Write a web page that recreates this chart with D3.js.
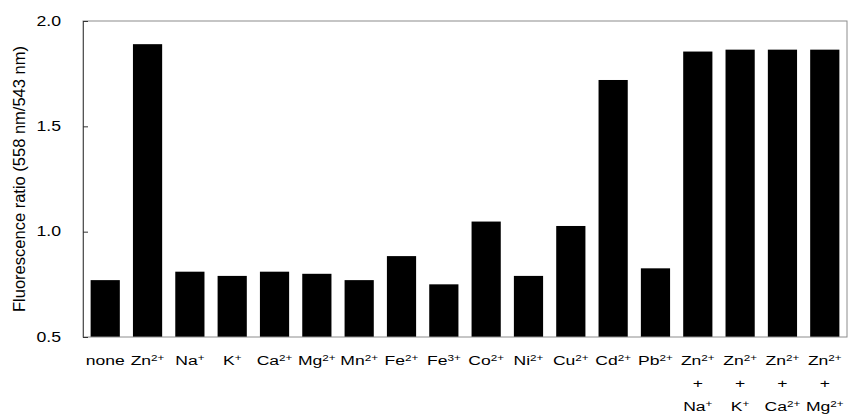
<!DOCTYPE html>
<html lang="en">
<head>
<meta charset="UTF-8">
<title>Fluorescence ratio</title>
<style>
  body { margin: 0; background: #fff; }
  svg text { font-family: "Liberation Sans", Arial, sans-serif; fill: #000; }
</style>
</head>
<body>
<svg id="chart"></svg>
<script src="https://cdnjs.cloudflare.com/ajax/libs/d3/7.9.0/d3.min.js"></script>
<script>
// category labels: "|" = new line, "^" = superscript part
const categories = ["none", "Zn^2+", "Na^+", "K^+", "Ca^2+", "Mg^2+", "Mn^2+", "Fe^2+", "Fe^3+",
  "Co^2+", "Ni^2+", "Cu^2+", "Cd^2+", "Pb^2+",
  "Zn^2+|+|Na^+", "Zn^2+|+|K^+", "Zn^2+|+|Ca^2+", "Zn^2+|+|Mg^2+"];
const ratios = [0.77, 1.89, 0.81, 0.79, 0.81, 0.80, 0.77, 0.884, 0.75,
  1.048, 0.79, 1.027, 1.72, 0.826, 1.855, 1.864, 1.864, 1.864];
const yTicks = [0.5, 1.0, 1.5, 2.0];
const yTitle = "Fluorescence ratio (558 nm/543 nm)";

const W = 852, H = 415;
const m = { left: 83, right: 5, top: 21, bottom: 78 };
const stretch = 1.3; // the original lettering is drawn wide

const svg = d3.select("#chart").attr("width", W).attr("height", H);

const x = d3.scaleBand()
  .domain(categories)
  .range([m.left, W - m.right])
  .paddingInner(0.31)
  .paddingOuter(0.18);

const y = d3.scaleLinear()
  .domain([0.5, 2.0])
  .range([H - m.bottom, m.top]);

// bars
svg.selectAll(".bar")
  .data(ratios)
  .enter()
  .append("rect")
  .attr("class", "bar")
  .attr("x", (d, i) => x(categories[i]))
  .attr("width", x.bandwidth())
  .attr("y", d => y(d))
  .attr("height", d => y(0.5) - y(d))
  .attr("fill", "#000");

// frame
svg.append("rect")
  .attr("x", m.left).attr("y", m.top)
  .attr("width", W - m.right - m.left)
  .attr("height", H - m.bottom - m.top)
  .attr("fill", "none")
  .attr("stroke", "#8c8c8c")
  .attr("stroke-width", 1);

// y axis: inward ticks, labels drawn separately so they can be stretched
const yAxis = svg.append("g").attr("transform", `translate(${m.left},0)`)
  .call(d3.axisLeft(y).tickValues(yTicks).tickSize(-5).tickFormat(""));
yAxis.select(".domain").attr("stroke", "#555");
yAxis.selectAll(".tick line").attr("stroke", "#333");

svg.selectAll(".ylab")
  .data(yTicks)
  .enter()
  .append("text")
  .attr("class", "ylab")
  .attr("transform", d => `translate(61,${y(d)}) scale(1.22,1)`)
  .attr("text-anchor", "end")
  .attr("dy", "0.33em")
  .style("font-size", "14.5px")
  .text(d3.format(".1f"));

// y title
svg.append("text")
  .attr("transform", `translate(25,${(m.top + H - m.bottom) / 2}) rotate(-90)`)
  .attr("text-anchor", "middle")
  .style("font-size", "16.5px")
  .text(yTitle);

// category labels
const lineY = [365, 388, 411];
categories.forEach(c => {
  const cx = x(c) + x.bandwidth() / 2;
  c.split("|").forEach((line, li) => {
    const parts = line.split("^");
    const t = svg.append("text")
      .attr("transform", `translate(${cx},${lineY[li]}) scale(${stretch},1)`)
      .attr("text-anchor", "middle")
      .style("font-size", "13.5px");
    t.append("tspan").text(parts[0]);
    if (parts[1]) {
      t.append("tspan")
        .attr("dy", -4.5)
        .style("font-size", "9px")
        .text(parts[1]);
    }
  });
});
</script>
</body>
</html>
